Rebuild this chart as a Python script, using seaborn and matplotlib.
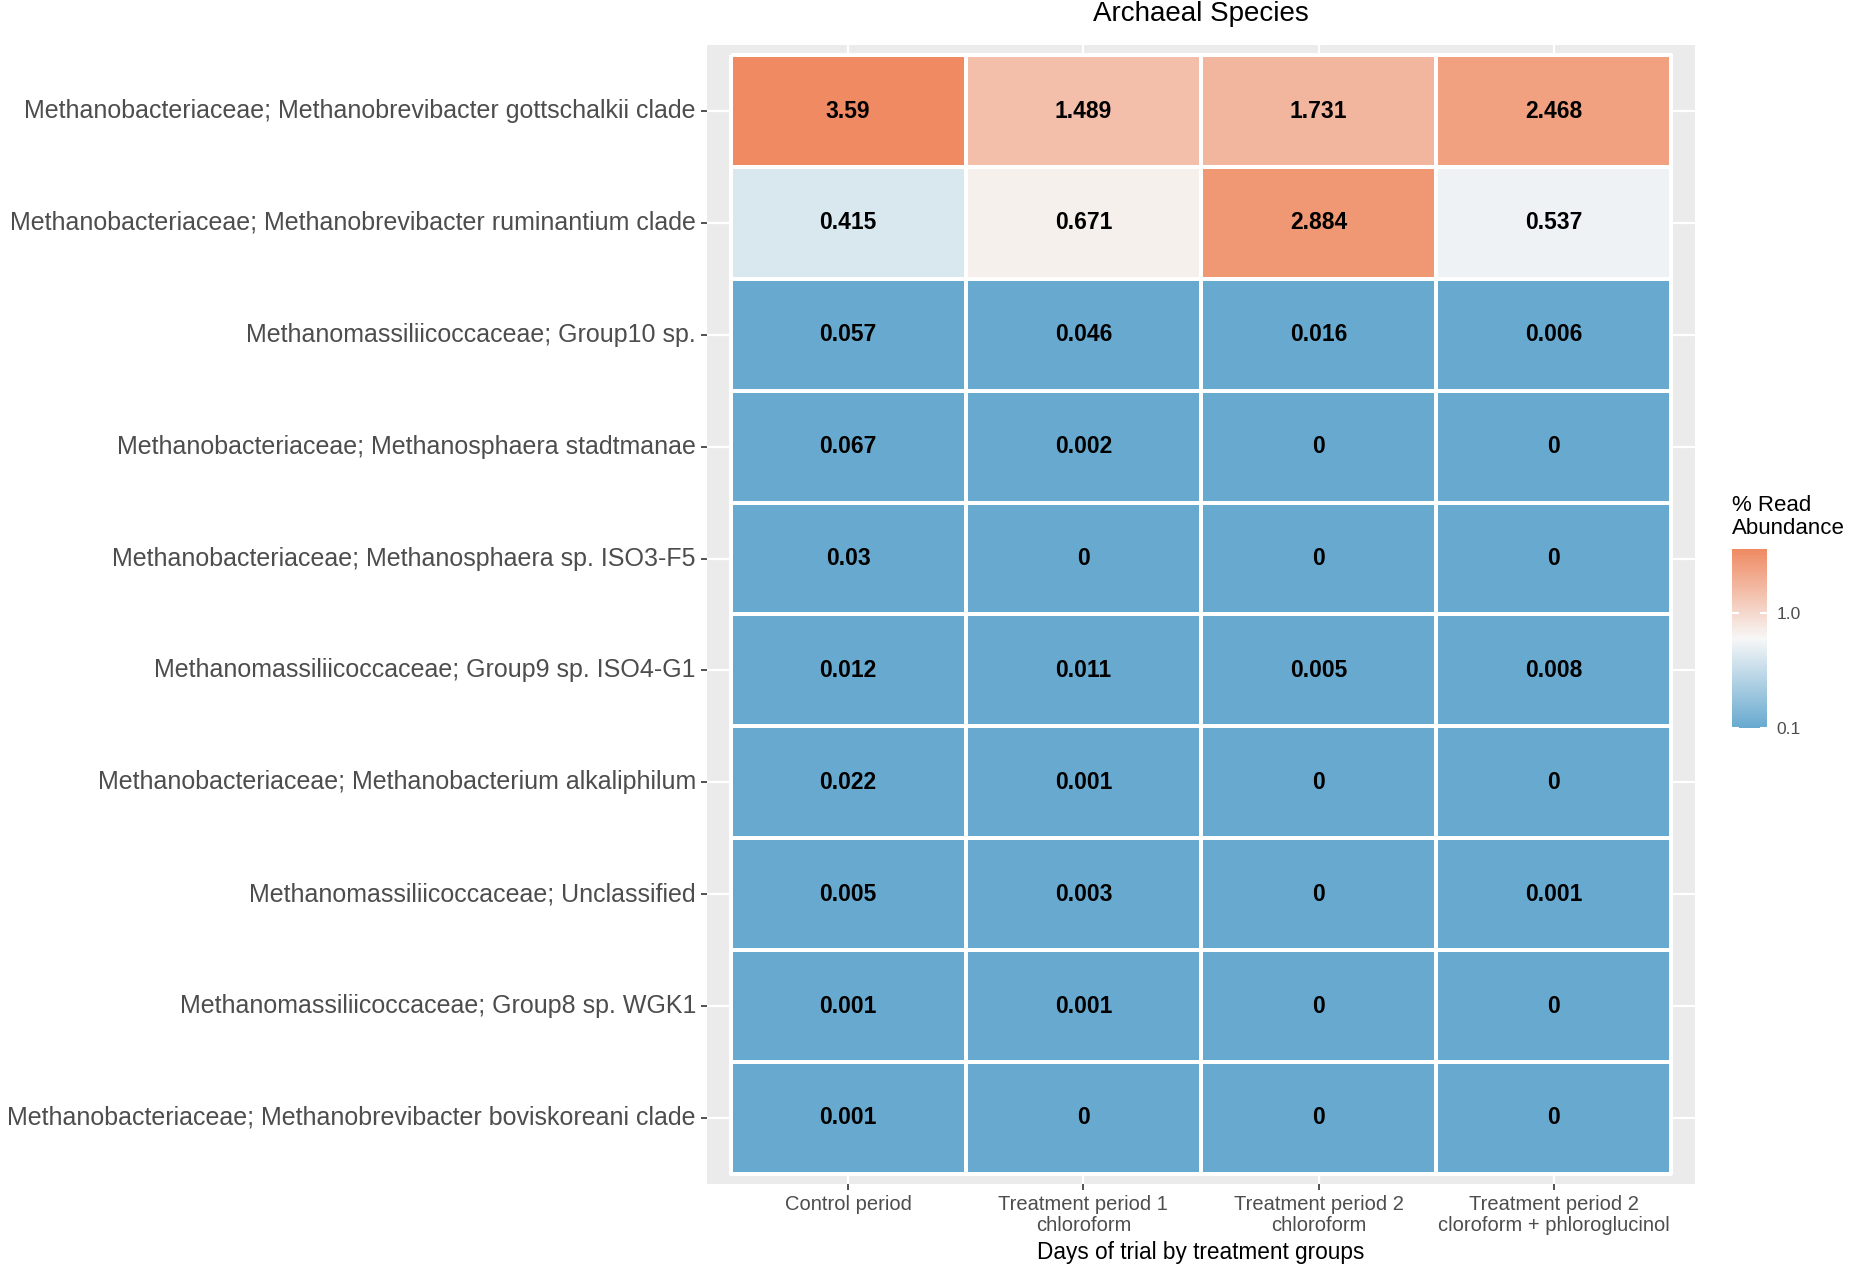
import matplotlib
matplotlib.use("Agg")
import matplotlib.pyplot as plt
import numpy as np
import pandas as pd
import seaborn as sns
from matplotlib.colors import LinearSegmentedColormap, LogNorm

SPECIES = [
    "Methanobacteriaceae; Methanobrevibacter gottschalkii clade",
    "Methanobacteriaceae; Methanobrevibacter ruminantium clade",
    "Methanomassiliicoccaceae; Group10 sp.",
    "Methanobacteriaceae; Methanosphaera stadtmanae",
    "Methanobacteriaceae; Methanosphaera sp. ISO3-F5",
    "Methanomassiliicoccaceae; Group9 sp. ISO4-G1",
    "Methanobacteriaceae; Methanobacterium alkaliphilum",
    "Methanomassiliicoccaceae; Unclassified",
    "Methanomassiliicoccaceae; Group8 sp. WGK1",
    "Methanobacteriaceae; Methanobrevibacter boviskoreani clade",
]
GROUPS = [
    "Control period",
    "Treatment period 1\nchloroform",
    "Treatment period 2\nchloroform",
    "Treatment period 2\ncloroform + phloroglucinol",
]

CONTROL = [3.59, 0.415, 0.057, 0.067, 0.03, 0.012, 0.022, 0.005, 0.001, 0.001]
TREAT1_CHLOROFORM = [1.489, 0.671, 0.046, 0.002, 0, 0.011, 0.001, 0.003, 0.001, 0]
TREAT2_CHLOROFORM = [1.731, 2.884, 0.016, 0, 0, 0.005, 0, 0, 0, 0]
TREAT2_PHLOROGLUCINOL = [2.468, 0.537, 0.006, 0, 0, 0.008, 0, 0.001, 0, 0]

LEGEND_TICKS = [0.1, 1.0]
LEGEND_TICK_LABELS = ["0.1", "1.0"]

TICK_GREY = "#4D4D4D"
PANEL_GREY = "#EBEBEB"
FILL_COLOURS = ["#67A9CF", "#F7F7F7", "#EF8A62"]

W, H = 1850, 1268


def main() -> None:
    plt.rcParams["font.family"] = ["Liberation Sans", "DejaVu Sans"]

    df = pd.DataFrame(
        {
            GROUPS[0]: CONTROL,
            GROUPS[1]: TREAT1_CHLOROFORM,
            GROUPS[2]: TREAT2_CHLOROFORM,
            GROUPS[3]: TREAT2_PHLOROGLUCINOL,
        },
        index=SPECIES,
    )
    labels = df.map(lambda v: f"{v:g}")
    vmax = df.values.max()

    fig = plt.figure(figsize=(W / 100, H / 100), dpi=100)
    ax = fig.add_axes([707 / W, 1 - 1184 / H, 988 / W, 1139 / H])
    cax = fig.add_axes([1732 / W, 1 - 728 / H, 35 / W, 179 / H])

    cmap = LinearSegmentedColormap.from_list("rdbu3", FILL_COLOURS)
    sns.heatmap(
        df,
        ax=ax,
        cbar_ax=cax,
        cmap=cmap,
        norm=LogNorm(vmin=0.1, vmax=vmax, clip=True),
        annot=labels,
        fmt="",
        annot_kws={"fontsize": 16.5, "fontweight": "bold", "color": "black"},
        linewidths=1.6,
        linecolor="white",
    )

    ax.set_facecolor(PANEL_GREY)
    ax.set_axisbelow(True)
    ax.grid(True, color="white", linewidth=1.6)
    ax.set_xlim(-0.1, 4.1)
    ax.set_ylim(10.09, -0.09)
    ax.set_xlabel("")
    ax.set_ylabel("")
    ax.tick_params(axis="y", labelrotation=0, labelsize=18.0, labelcolor=TICK_GREY,
                   length=4, width=1.2, color="#333333", pad=4)
    ax.tick_params(axis="x", labelrotation=0, labelsize=14.5, labelcolor=TICK_GREY,
                   length=4, width=1.2, color="#333333", pad=4)
    for label in ax.get_xticklabels():
        label.set_horizontalalignment("center")
        label.set_linespacing(1.15)

    ax.text(0.5, 1 + 31 / 1139, "Archaeal Species", transform=ax.transAxes,
            ha="center", va="center", fontsize=20, color="black")
    ax.text(0.5, -68 / 1139, "Days of trial by treatment groups", transform=ax.transAxes,
            ha="center", va="center", fontsize=16.3, color="black")

    cbar = ax.collections[0].colorbar
    cbar.outline.set_visible(False)
    cbar.ax.minorticks_off()
    cbar.set_ticks(LEGEND_TICKS)
    cbar.set_ticklabels(LEGEND_TICK_LABELS)
    cbar.ax.tick_params(which="major", direction="in", color="white", length=5, width=1.5,
                        left=True, right=True, labelsize=12.5, labelcolor=TICK_GREY, pad=7)
    fig.text(1732 / W, 1 - 495 / H, "% Read\nAbundance", ha="left", va="top",
             fontsize=16, color="black", linespacing=1.1)

    fig.savefig("out.png", dpi=100)
    plt.close(fig)


if __name__ == "__main__":
    main()
